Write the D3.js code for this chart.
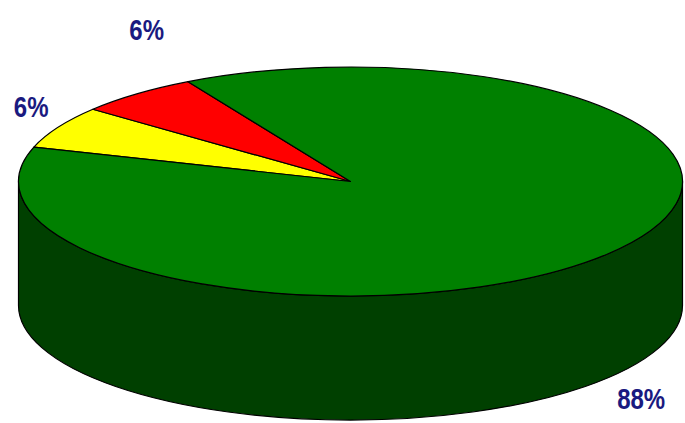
<!DOCTYPE html>
<head>
    <meta charset="utf-8">
    <script src="https://d3js.org/d3.v7.min.js"></script>
    <style>
        body { margin: 0; background: #fff; }
        text { font-family: "Liberation Sans Narrow", "Arial Narrow", "Liberation Sans", Arial, sans-serif; font-weight: bold; }
    </style>
</head>
<body>
    <svg></svg>
    <script>
        // slice data, in drawing order (clockwise from the start angle)
        var categories = ["Yellow", "Red", "Green"];
        var values = [6, 6, 88];
        var labels = ["6%", "6%", "88%"];
        var colors = ["#ffff00", "#ff0000", "#008000"];
        var sideColors = ["#808000", "#800000", "#004000"];

        var width = 685, height = 423;
        var cx = 350.5, cy = 181.5, rx = 332, ry = 114.5, depth = 124;
        var k = ry / rx;                // vertical squash of the pie
        var startAngle = -72.5 * Math.PI / 180;

        // label nudges from the slice's outer edge (screen px)
        var labelOffset = [[-27, -21], [10, -65], [33, 20]];

        var svg = d3.select("svg")
            .attr("width", width)
            .attr("height", height);

        var pie = d3.pie().sort(null).startAngle(startAngle).endAngle(startAngle + 2 * Math.PI);
        var arcs = pie(values);

        // everything in circle space, squashed vertically
        var g = svg.append("g")
            .attr("transform", "translate(" + cx + "," + cy + ") scale(1," + k + ")");

        var dd = depth / k;

        // side walls: only the front half (screen angles 0..PI) is visible
        arcs.forEach(function (a, i) {
            // d3 pie angle -> screen angle
            var s0 = a.startAngle - Math.PI / 2, s1 = a.endAngle - Math.PI / 2;
            [0, 2 * Math.PI].forEach(function (shift) {
                var lo = Math.max(s0 - shift, 0), hi = Math.min(s1 - shift, Math.PI);
                if (hi <= lo) return;
                var p = d3.path();
                p.moveTo(rx * Math.cos(lo), rx * Math.sin(lo));
                p.arc(0, 0, rx, lo, hi, false);
                p.lineTo(rx * Math.cos(hi), rx * Math.sin(hi) + dd);
                p.arc(0, dd, rx, hi, lo, true);
                p.closePath();
                g.append("path")
                    .attr("d", p.toString())
                    .attr("fill", sideColors[i])
                    .attr("stroke", "#000")
                    .attr("stroke-width", 1.2)
                    .attr("vector-effect", "non-scaling-stroke");
            });
        });

        // top face
        var arc = d3.arc().innerRadius(0).outerRadius(rx);
        g.selectAll(".slice")
            .data(arcs)
            .enter().append("path")
            .attr("class", "slice")
            .attr("d", arc)
            .attr("fill", function (d, i) { return colors[i]; })
            .attr("stroke", "#000")
            .attr("stroke-width", 1.2)
            .attr("stroke-linejoin", "round")
            .attr("vector-effect", "non-scaling-stroke");

        // labels (narrow bold look: squeeze horizontally)
        svg.selectAll(".lbl")
            .data(arcs)
            .enter().append("text")
            .attr("class", "lbl")
            .attr("transform", function (d, i) {
                var m = (d.startAngle + d.endAngle) / 2 - Math.PI / 2;
                var x = cx + rx * Math.cos(m) + labelOffset[i][0];
                var y = cy + ry * Math.sin(m);
                if (Math.sin(m) > 0) y += depth;
                y += labelOffset[i][1];
                return "translate(" + x + "," + y + ") scale(0.8,1)";
            })
            .attr("text-anchor", "middle")
            .attr("dy", "0.36em")
            .attr("font-size", 30)
            .attr("fill", "#1a1a80")
            .text(function (d, i) { return labels[i]; });
    </script>
</body>
